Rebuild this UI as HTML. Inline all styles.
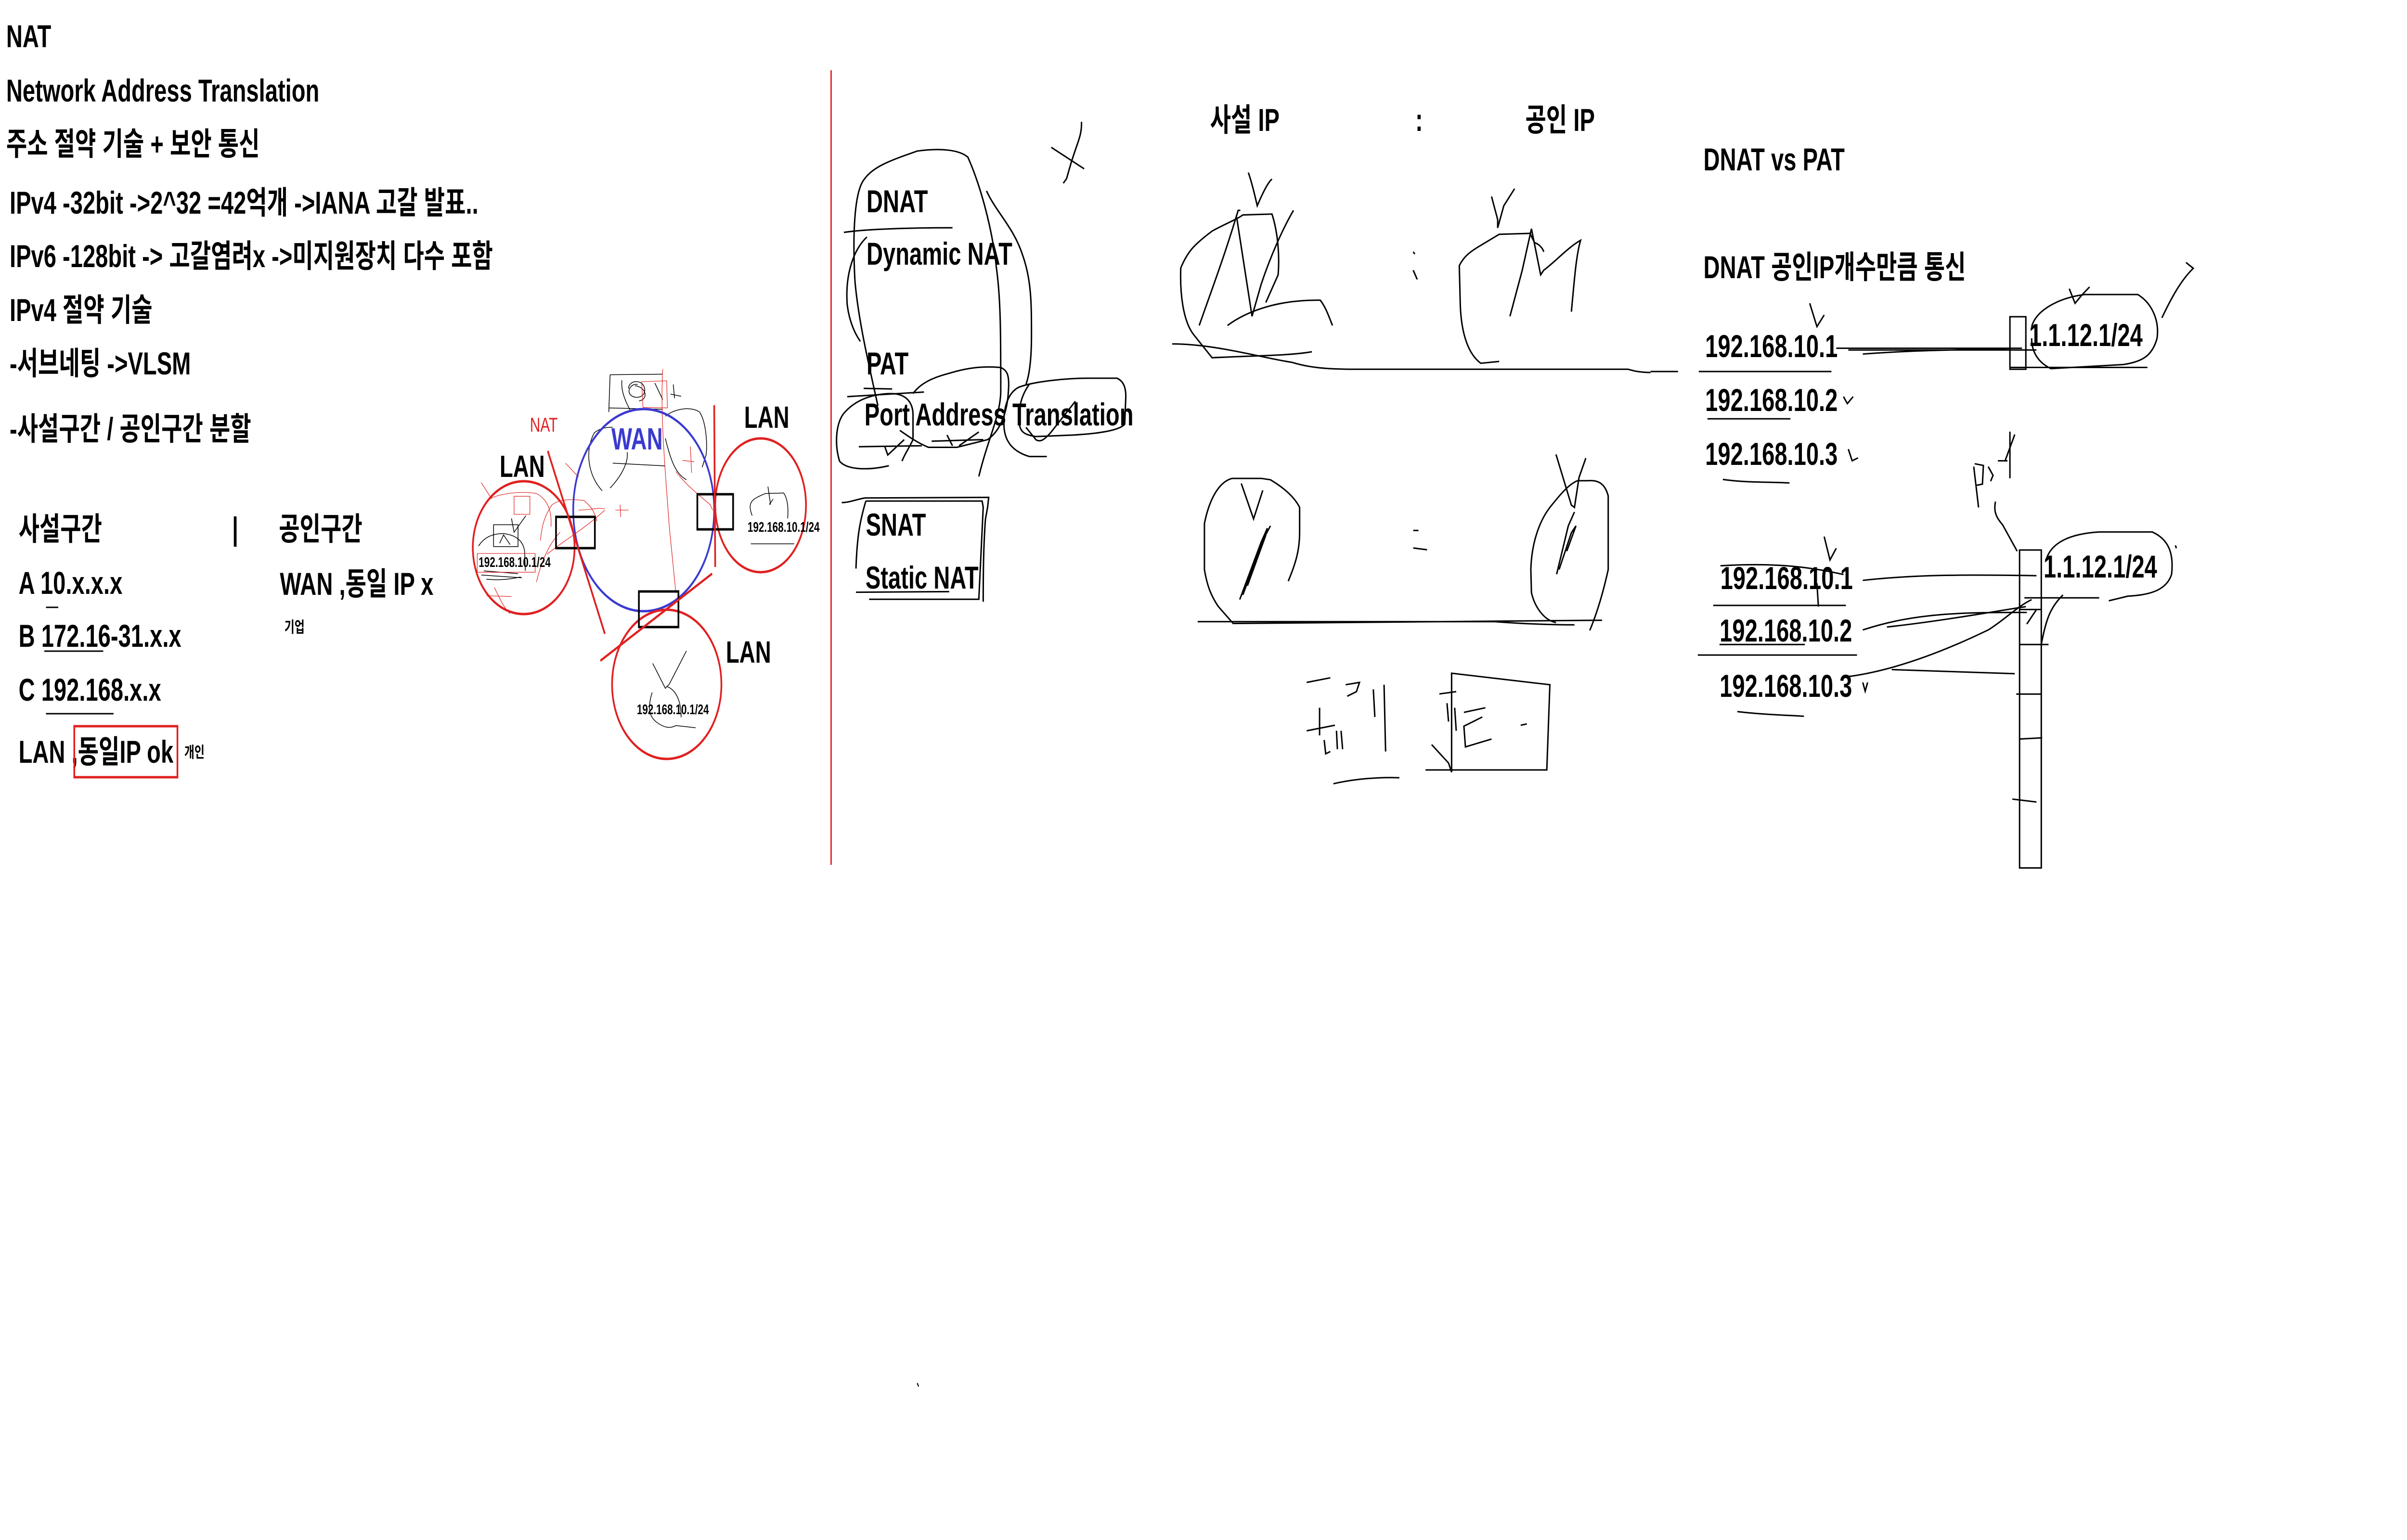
<!DOCTYPE html>
<html><head><meta charset="utf-8"><style>
html,body{margin:0;padding:0;background:#fff;overflow:hidden;width:100%;height:100%;}
svg{display:block;width:100vw;height:100vh;}
text{font-family:"Liberation Sans","Noto Sans CJK KR",sans-serif;font-weight:bold;fill:#000;}
.t{font-size:66px;}
.k{stroke:#000;stroke-width:3;fill:none;stroke-linecap:round;stroke-linejoin:round;}
.n{vector-effect:non-scaling-stroke;}
</style></head><body>
<svg viewBox="0 0 7000 3200" preserveAspectRatio="none" xmlns="http://www.w3.org/2000/svg">
<rect width="7000" height="3200" fill="#fff"/>

<!-- LEFT TEXT -->
<g class="t">
<text x="18" y="98" class="t">NAT</text>
<text x="18" y="211" class="t">Network Address Translation</text>
<text x="18" y="322" class="t">주소 절약 기술 + 보안 통신</text>
<text x="28" y="444" class="t">IPv4 -32bit -&gt;2^32 =42억개  -&gt;IANA 고갈 발표..</text>
<text x="28" y="555" class="t">IPv6 -128bit -&gt; 고갈염려x -&gt;미지원장치 다수 포함</text>
<text x="28" y="667" class="t">IPv4 절약 기술</text>
<text x="28" y="778" class="t">-서브네팅 -&gt;VLSM</text>
<text x="28" y="914" class="t">-사설구간 / 공인구간 분할</text>
<text x="54" y="1122" class="t">사설구간</text>
<text x="811" y="1122" class="t">공인구간</text>
<text x="54" y="1234" class="t">A 10.x.x.x</text>
<text x="54" y="1344" class="t">B 172.16-31.x.x</text>
<text x="54" y="1456" class="t">C 192.168.x.x</text>
<text x="54" y="1585" class="t">LAN ,동일IP ok</text>
<text x="814" y="1236" class="t">WAN ,동일 IP x</text>
</g>
<text x="536" y="1574" style="font-size:32px">개인</text>
<text x="827" y="1314" style="font-size:32px">기업</text>
<line x1="684" y1="1073" x2="684" y2="1136" stroke="#000" stroke-width="8"/>
<rect x="216" y="1509" width="300" height="106" fill="none" stroke="#e02020" stroke-width="5"/>
<path class="k" d="M135 1262 L168 1262 M130 1353 L299 1353 M135 1483 L329 1483"/>

<!-- LEFT DIAGRAM -->
<g transform="translate(1300,750) scale(0.765,0.574)">
 <g fill="none" stroke="#000" stroke-width="1.5">
  <path class="n" d="M620 50 L820 48 M620 50 L615 185 M615 170 L820 175 M690 100 C690 70,740 65,750 95 C760 130,720 140,700 125 C680 110,700 80,725 85 M715 90 C760 95,765 140,730 145 M665 70 C660 110,680 150,700 185 M790 80 L820 140 M860 85 L865 135 M850 120 L890 128"/>
  <path class="n" d="M590 470 C540 420,520 330,560 260 C580 245,600 240,630 240 M620 460 C660 420,690 370,685 330 M630 370 L830 380 M830 200 C870 170,930 165,960 185 C985 220,990 300,985 340 L970 385 M830 280 C850 360,870 410,910 430"/>
  <path class="n" d="M177 593 L270 593 L270 672 L177 672 Z M120 670 C140 640,170 625,215 625 C260 630,290 650,295 690 L298 760 M130 775 L285 785 M140 760 L270 770 M150 790 C200 795,240 790,280 782 M200 660 L215 630 L240 665 M245 570 L255 620 L300 560"/>
  <path class="n" d="M1230 520 L1220 455 M1160 560 C1140 510,1160 500,1210 480 L1280 478 C1295 500,1298 530,1295 570 M1155 662 L1320 662 M1225 520 L1240 500"/>
  <path class="n" d="M782 1095 L830 1185 L845 1170 L910 1050 M780 1200 C760 1260,770 1290,800 1310 C830 1330,850 1330,870 1320 L945 1328 M835 1178 C870 1190,890 1230,890 1290"/>
 </g>
 <g fill="none" stroke="#e02020" stroke-width="1.2">
  <path class="n" d="M740 75 L835 72 L838 170 L745 168 Z M820 30 C810 200,830 400,845 600 L870 840 M895 360 L940 365 M925 310 L930 405 M640 540 L690 540 M658 520 L660 565"/>
  <path class="n" d="M255 490 L315 490 L315 555 L255 555 Z M115 697 L335 697 L335 765 L115 765 Z M355 650 C360 600,370 560,400 520 C430 500,470 500,520 505 C540 520,560 540,570 580 M380 700 C430 660,520 610,600 540 M500 540 C540 540,570 530,600 535 M340 800 C360 720,390 660,430 620 M870 400 C900 440,950 480,1000 520 L1010 540 M160 500 C200 480,280 470,340 480 C380 500,400 540,395 600 M130 440 L170 500 M450 370 L500 420 M180 820 C200 860,220 900,240 915 M150 850 L245 853"/>
 </g>
</g>
<ellipse cx="1872" cy="1060" rx="205" ry="210" fill="none" stroke="#3a3ad0" stroke-width="5"/>
<ellipse cx="1523" cy="1138" rx="148" ry="138" fill="none" stroke="#e02020" stroke-width="5"/>
<ellipse cx="2212" cy="1050" rx="132" ry="139" fill="none" stroke="#e02020" stroke-width="5"/>
<ellipse cx="1939" cy="1422" rx="159" ry="155" fill="none" stroke="#e02020" stroke-width="5"/>
<rect x="1617" y="1074" width="113" height="65" fill="none" stroke="#000" stroke-width="5"/>
<rect x="2028" y="1027" width="104" height="73" fill="none" stroke="#000" stroke-width="5"/>
<rect x="1858" y="1229" width="115" height="74" fill="none" stroke="#000" stroke-width="5"/>
<line x1="1593" y1="937" x2="1759" y2="1317" stroke="#e02020" stroke-width="5"/>
<line x1="2077" y1="842" x2="2080" y2="1178" stroke="#e02020" stroke-width="5"/>
<line x1="1746" y1="1373" x2="2071" y2="1192" stroke="#e02020" stroke-width="5"/>
<text x="1541" y="897" style="font-size:42px;fill:#e02020;font-weight:normal">NAT</text>
<text x="1778" y="934" style="font-size:64px;fill:#3a3ad0">WAN</text>
<text x="1453" y="991" style="font-size:64px">LAN</text>
<text x="2164" y="889" style="font-size:64px">LAN</text>
<text x="2111" y="1377" style="font-size:64px">LAN</text>
<text x="1392" y="1178" style="font-size:29px">192.168.10.1/24</text>
<text x="2174" y="1105" style="font-size:29px">192.168.10.1/24</text>
<text x="1852" y="1484" style="font-size:29px">192.168.10.1/24</text>

<!-- DIVIDER -->
<line x1="2417" y1="146" x2="2417" y2="1797" stroke="#e02020" stroke-width="4"/>
<path class="k" d="M2668 2875 L2671 2880"/>

<!-- MIDDLE LEFT -->
<text x="2520" y="441" class="t">DNAT</text>
<text x="2520" y="550" class="t">Dynamic NAT</text>
<text x="2520" y="778" class="t">PAT</text>
<text x="2514" y="884" class="t">Port Address Translation</text>
<text x="2518" y="1113" class="t">SNAT</text>
<text x="2517" y="1223" class="t">Static NAT</text>
<g transform="translate(2400,250) scale(0.638)" fill="none" stroke="#000" stroke-width="3">
 <path class="n" d="M85 365 C150 358,300 350,580 350"/>
 <path class="n" d="M190 380 C130 420,90 500,100 600 C110 660,140 700,160 720"/>
 <path class="n" d="M240 930 C200 800,150 650,135 520 C125 380,130 230,180 190 C220 150,300 130,420 100 C520 90,610 95,650 120 C700 200,760 340,780 480 C800 580,800 700,800 880 C800 960,740 1040,700 1160"/>
 <path class="n" d="M735 230 C780 300,860 350,900 440 C940 520,940 600,940 700 C940 780,930 830,915 860"/>
 <path class="n" d="M290 1125 C200 1140,100 1140,65 1110 C40 1050,50 980,90 950 C140 910,220 890,300 890 C370 890,400 920,400 960 L400 1040 C380 1070,360 1090,350 1110"/>
 <path class="n" d="M175 873 L305 875 M100 900 L450 885"/>
 <path class="n" d="M400 890 C430 860,480 840,560 825 C650 805,720 800,800 805 C830 815,840 830,835 880 C830 950,800 1010,740 1040 L600 1065 L470 1065 C420 1050,380 1030,340 1010"/>
 <path class="n" d="M153 1063 L440 1060 M270 1060 L285 1090 L360 1040 M485 1045 L720 1040 M555 1025 L580 1060 M610 1060 L700 1015"/>
 <path class="n" d="M1010 1095 L930 1095 C860 1080,820 1050,815 1000 C810 940,830 890,880 870 C950 850,1100 840,1200 840 L1330 840 C1360 850,1370 870,1370 900 L1365 990 C1340 1010,1250 1020,1130 1025 L960 1030 C920 1025,890 1020,885 990 C880 940,890 900,930 860"/>
 <path class="n" d="M915 1000 L960 1040 C980 1050,1000 1040,1030 1015 L1140 915"/>
 <path class="n" d="M1030 88 L1180 158 M1168 5 C1170 50,1150 70,1120 140 L1100 190 L1085 205"/>
 <path class="n" d="M75 1245 C110 1245,140 1235,180 1230 L745 1228 L740 1260 L730 1300 C720 1400,720 1500,720 1568 M185 1240 L715 1240 L720 1260 L700 1560 L200 1560 M185 1240 C160 1300,145 1350,140 1460 M140 1537 L565 1535"/>
</g>

<!-- MIDDLE RIGHT -->
<text x="3519" y="272" class="t">사설 IP</text>
<text x="4116" y="272" class="t">:</text>
<text x="4436" y="272" class="t">공인 IP</text>
<g transform="translate(3400,150) scale(0.893,0.957)" fill="none" stroke="#000" stroke-width="3">
 <path class="n" d="M465 607 C400 615,300 615,140 620 L80 570 C45 540,35 480,38 425 C60 390,80 375,140 345 C180 330,220 320,240 310 L335 308 C355 350,360 400,355 440 L315 500"/>
 <path class="n" d="M98 550 C140 470,180 400,225 300 L232 300 M220 315 L270 530 L300 460 C330 400,370 340,405 300"/>
 <path class="n" d="M190 550 C250 520,350 495,480 495 L492 495 C510 510,520 530,532 550"/>
 <path class="n" d="M258 218 C270 240,280 270,287 290 C300 270,320 240,335 232"/>
 <path class="n" d="M10 590 C150 590,300 620,400 630 C450 640,500 645,600 645 L1495 645 C1520 650,1540 652,1568 652"/>
 <path class="n" d="M1075 628 L1015 632 C970 610,950 560,948 500 L945 420 C960 400,980 390,1010 378 L1075 352 L1175 350 L1190 370 C1210 375,1218 385,1220 390"/>
 <path class="n" d="M1110 530 L1150 430 L1180 340 L1210 440 L1220 430 C1260 410,1300 380,1340 365 C1325 400,1320 450,1310 520"/>
 <path class="n" d="M1050 270 L1070 320 L1070 338 L1090 290 L1125 253"/>
 <path class="n" d="M795 390 L800 395 M795 430 L808 450"/>
 <path class="n" d="M388 1105 C410 1070,425 1040,425 1000 L425 945 C410 925,380 905,330 885 L300 882 L205 882 C160 890,130 930,115 980 L115 1080 C125 1120,140 1140,160 1160 L210 1198"/>
 <path class="n" d="M235 893 L275 970 L305 908"/>
 <path class="n" d="M230 1145 L300 1020 L320 990 M240 1135 L310 1010 L330 985 M255 1115 L315 1005"/>
 <path class="n" d="M93 1193 L1060 1193 C1200 1200,1300 1200,1320 1200 M210 1197 L1410 1190"/>
 <path class="n" d="M795 995 L812 995 M795 1033 L840 1037"/>
 <path class="n" d="M1370 1212 C1390 1180,1410 1140,1430 1080 L1430 920 C1420 895,1400 885,1365 887 L1330 887 C1300 895,1270 920,1240 945 C1200 980,1180 1030,1178 1080 L1180 1130 C1190 1160,1220 1190,1260 1195"/>
 <path class="n" d="M1260 830 L1310 940 L1320 945 L1335 880 L1357 838"/>
 <path class="n" d="M1262 1090 L1300 985 L1320 955 M1270 1080 L1310 1000 L1325 985 L1295 1040"/>
 <path class="n" d="M448 1325 L525 1315 M575 1330 L620 1325 L610 1345 L580 1355 M448 1430 L540 1418 M490 1380 L490 1440 M505 1450 L510 1480 L525 1475 M545 1430 L548 1470 M560 1430 L565 1470 M665 1340 L670 1400 M700 1330 L705 1475 M535 1545 C600 1535,680 1530,750 1532"/>
 <path class="n" d="M880 1350 L935 1345 M905 1370 L910 1410 M930 1380 L935 1430 M960 1390 L1030 1380 M1020 1400 L960 1420 L965 1465 L1050 1448 M855 1460 L910 1500 L920 1520 M1145 1418 L1165 1415"/>
 <path class="n" d="M920 1520 L920 1305 L1240 1330 L1230 1515 L835 1515"/>
</g>

<!-- RIGHT SECTION -->
<text x="4954" y="354" class="t">DNAT vs PAT</text>
<text x="4954" y="578" class="t">DNAT 공인IP개수만큼 통신</text>
<text x="4959" y="742" class="t">192.168.10.1</text>
<text x="4959" y="854" class="t">192.168.10.2</text>
<text x="4959" y="966" class="t">192.168.10.3</text>
<text x="5901" y="719" class="t">1.1.12.1/24</text>
<text x="5003" y="1224" class="t">192.168.10.1</text>
<text x="5001" y="1333" class="t">192.168.10.2</text>
<text x="5001" y="1448" class="t">192.168.10.3</text>
<text x="5943" y="1200" class="t">1.1.12.1/24</text>
<g transform="translate(4800,0) scale(1.403,1.212)" fill="none" stroke="#000" stroke-width="3">
 <path class="n" d="M100 637 L375 637 M0 637 L57 637 M118 718 L290 718 M150 822 C200 828,250 826,288 828"/>
 <path class="n" d="M745 543 L778 543 L778 633 L745 633 Z"/>
 <path class="n" d="M385 597 L770 597 M440 607 C550 600,650 600,750 597 M410 600 L800 600"/>
 <path class="n" d="M790 560 C800 530,850 510,900 505 L1010 505 C1040 520,1055 550,1050 580 C1040 610,1020 620,980 625 L830 632 C800 620,790 600,790 580"/>
 <path class="n" d="M745 630 L1030 630 M1060 545 C1080 510,1100 480,1125 460 L1110 450"/>
 <path class="n" d="M330 520 L345 560 L360 540 M868 495 L880 520 L895 505 L910 492"/>
 <path class="n" d="M400 680 L408 692 L420 680 M410 770 L418 790 L430 785"/>
 <path class="n" d="M765 943 L810 943 L810 1488 L765 1488 Z"/>
 <path class="n" d="M765 1105 L825 1105 M758 1190 L810 1190 M765 1267 L812 1265 M750 1370 L800 1375 M765 1045 L810 1045 M775 1025 L930 1025"/>
 <path class="n" d="M820 960 C830 930,870 915,930 912 L1040 912 C1075 925,1085 950,1080 985 C1070 1010,1040 1020,990 1022 L950 1030 M1090 940 L1088 935"/>
 <path class="n" d="M440 995 C550 985,650 985,800 987 M130 1038 L405 1038 M345 1000 L348 1040 M360 920 L372 960 L385 940 M145 970 C250 965,320 970,400 985"/>
 <path class="n" d="M440 1080 C550 1050,650 1050,780 1050 M490 1075 C600 1065,700 1050,778 1040 M98 1123 L428 1123 M143 1105 L320 1105"/>
 <path class="n" d="M410 1160 C500 1150,600 1120,700 1080 C730 1065,760 1040,790 1028 M500 1148 L755 1155 M180 1220 C230 1225,280 1226,318 1228 M440 1170 L445 1185 L450 1170"/>
 <path class="n" d="M810 1105 C820 1060,830 1040,855 1020 M780 1070 L800 1045"/>
 <path class="n" d="M670 800 L680 870 M672 795 L690 798 L688 830 L676 832 M700 800 L710 815 L705 825 M720 790 L740 790 M745 740 L745 820 M755 745 L735 790"/>
 <path class="n" d="M715 860 C710 880,720 890,730 900 L760 945"/>
</g>
</svg>
</body></html>
